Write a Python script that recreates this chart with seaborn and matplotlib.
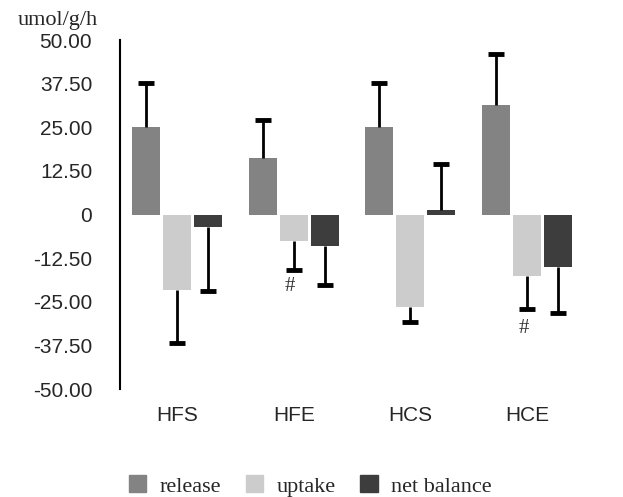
import numpy as np
import pandas as pd
import matplotlib
matplotlib.use("Agg")
import matplotlib.pyplot as plt
import seaborn as sns

groups = ["HFS", "HFE", "HCS", "HCE"]
series = ["release", "uptake", "net balance"]
release = [25.0, 16.3, 25.2, 31.5]
uptake = [-21.5, -7.5, -26.6, -17.5]
net_balance = [-3.7, -9.0, 1.4, -14.9]
release_err = [12.8, 10.7, 12.6, 14.6]
uptake_err = [15.2, 8.5, 4.1, 9.7]
net_err = [18.1, 11.3, 13.2, 13.2]
colors = ["#828382", "#cbcccb", "#3c3d3c"]
yticks = [50, 37.5, 25, 12.5, 0, -12.5, -25, -37.5, -50]
ytick_labels = ["50.00", "37.50", "25.00", "12.50", "0", "-12.50", "-25.00", "-37.50", "-50.00"]

df = pd.DataFrame({
    "group": groups * 3,
    "series": sum([[s] * 4 for s in series], []),
    "value": release + uptake + net_balance,
})
errs = [release_err, uptake_err, net_err]
vals = [release, uptake, net_balance]

sns.set_style("white")
fig = plt.figure(figsize=(6.23, 4.97), dpi=100)
ax = fig.add_axes([0.1926, 0.2173, 0.7448, 0.7022])

sns.barplot(data=df, x="group", y="value", hue="series", order=groups,
            hue_order=series, palette=colors, width=0.8, gap=0.1,
            errorbar=None, linewidth=0, legend=False, ax=ax)

# one-sided error bars, pointing away from zero
for cont, v, e in zip(ax.containers, vals, errs):
    xs = [p.get_x() + p.get_width() / 2 for p in cont.patches]
    ends = [val + err if val >= 0 else val - err for val, err in zip(v, e)]
    ax.vlines(xs, v, ends, color="black", linewidth=2, zorder=3)
    ax.plot(xs, ends, ls="none", marker="_", markersize=11, mew=3.5,
            color="black", zorder=3)

ax.set_ylim(-50, 50)
ax.set_xlim(-0.49, 3.49)
ax.set_yticks(yticks)
ax.set_yticklabels(ytick_labels, family="Liberation Sans", fontsize=15)
ax.set_xticks(range(4))
ax.set_xticklabels(groups, family="Liberation Sans", fontsize=15)
ax.tick_params(axis="y", direction="in", length=5, width=1.5, pad=20)
ax.tick_params(axis="x", length=0, pad=12)
ax.set_xlabel("")
ax.set_ylabel("")
for s in ["top", "right", "bottom"]:
    ax.spines[s].set_visible(False)
ax.spines["left"].set_linewidth(1.5)
ax.spines["left"].set_color("black")

# significance marks
ax.text(0.97, uptake[1] - uptake_err[1] - 4.7, "#", ha="center", va="center",
        fontsize=15, family="Liberation Serif", color="#333333")
ax.text(2.97, uptake[3] - uptake_err[3] - 5.4, "#", ha="center", va="center",
        fontsize=15, family="Liberation Serif", color="#333333")

fig.text(0.028, 0.958, "umol/g/h", family="Liberation Serif", fontsize=16, va="center")

handles = [plt.Rectangle((0, 0), 1, 1, color=c) for c in colors]
fig.legend(handles, series, loc="center", bbox_to_anchor=(0.498, 0.022), ncol=3,
           frameon=False, prop={"family": "Liberation Serif", "size": 16},
           handlelength=0.8, handleheight=0.8, columnspacing=1.1, handletextpad=0.6)

fig.savefig("out.png", dpi=100)
